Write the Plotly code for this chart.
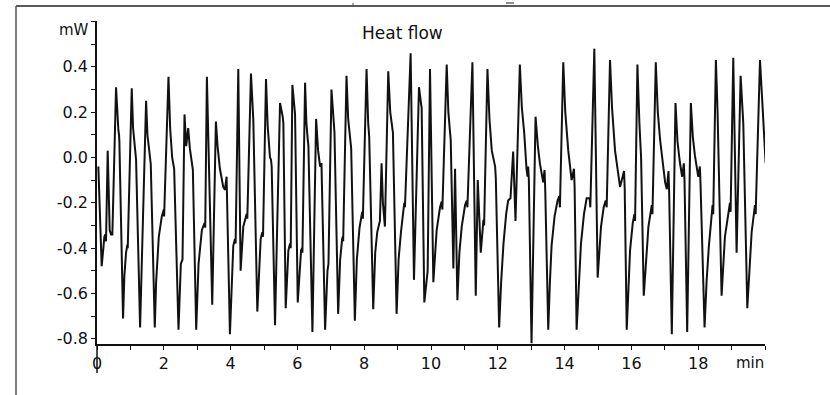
import plotly.graph_objects as go

# time (min) and heat flow (mW)
time_min = [
    0.04, 0.10, 0.14, 0.19, 0.22, 0.25, 0.27, 0.32, 0.36, 0.38, 0.42, 0.46,
    0.57, 0.60, 0.64, 0.66, 0.67, 0.78, 0.82, 0.87, 0.91, 0.92,
    1.04, 1.08, 1.13, 1.15, 1.17, 1.29, 1.33, 1.47, 1.51, 1.57, 1.59, 1.61,
    1.73, 1.77, 1.85, 1.94, 2.00, 2.01, 2.14, 2.19, 2.25, 2.29, 2.31,
    2.44, 2.51, 2.56, 2.62, 2.67, 2.73, 2.78, 2.84, 2.87, 2.97, 3.04, 3.14,
    3.22, 3.24, 3.29, 3.45, 3.56, 3.61, 3.68, 3.78, 3.83, 3.88, 3.89,
    3.98, 4.08, 4.13, 4.15, 4.23, 4.30, 4.38, 4.48, 4.50, 4.61, 4.68,
    4.80, 4.90, 4.95, 4.97, 5.06, 5.11, 5.18, 5.21, 5.23, 5.33, 5.38,
    5.48, 5.56, 5.58, 5.65, 5.73, 5.78, 5.80, 5.85, 5.90, 5.93, 6.01,
    6.08, 6.11, 6.14, 6.15, 6.23, 6.27, 6.31, 6.33, 6.45, 6.56, 6.62,
    6.68, 6.72, 6.73, 6.83, 6.90, 6.93, 7.02, 7.07, 7.10, 7.11, 7.22,
    7.28, 7.34, 7.36, 7.37, 7.47, 7.52, 7.58, 7.61, 7.72, 7.78, 7.86,
    7.94, 7.96, 8.07, 8.12, 8.15, 8.27, 8.33, 8.39, 8.47, 8.52, 8.56,
    8.62, 8.72, 8.78, 8.84, 8.86, 8.97, 9.03, 9.10, 9.20, 9.22, 9.39,
    9.49, 9.64, 9.70, 9.72, 9.80, 9.90, 9.97, 10.07, 10.17, 10.27, 10.32,
    10.34, 10.47, 10.52, 10.57, 10.59, 10.67, 10.72, 10.79, 10.85, 10.92,
    11.02, 11.07, 11.09, 11.24, 11.34, 11.40, 11.49, 11.57, 11.59, 11.69,
    11.75, 11.82, 11.90, 11.92, 11.94, 12.04, 12.10, 12.17, 12.25, 12.31,
    12.38, 12.46, 12.53, 12.66, 12.72, 12.79, 12.86, 12.89, 12.91, 12.93,
    13.01, 13.13, 13.20, 13.26, 13.36, 13.40, 13.42, 13.51, 13.56, 13.61,
    13.70, 13.79, 13.84, 13.86, 13.96, 14.02, 14.11, 14.21, 14.28, 14.30,
    14.36, 14.42, 14.49, 14.58, 14.66, 14.75, 14.77, 14.89, 14.99, 15.09,
    15.17, 15.23, 15.26, 15.36, 15.42, 15.51, 15.66, 15.78, 15.80, 15.86,
    15.91, 15.96, 16.04, 16.09, 16.11, 16.18, 16.24, 16.29, 16.37, 16.45,
    16.51, 16.61, 16.63, 16.73, 16.79, 16.86, 17.01, 17.06, 17.11, 17.13,
    17.21, 17.32, 17.38, 17.45, 17.52, 17.57, 17.59, 17.67, 17.78, 17.84,
    17.90, 18.00, 18.05, 18.07, 18.19, 18.25, 18.32, 18.43, 18.45, 18.53,
    18.58, 18.70, 18.80, 18.95, 18.97, 19.05, 19.15, 19.27, 19.35, 19.47,
    19.54, 19.60, 19.70, 19.72, 19.85, 19.91, 19.95, 20.02,
]
heat_flow_mw = [
    -0.04, -0.30, -0.48, -0.40, -0.35, -0.34, -0.37, 0.03, -0.20, -0.32, -0.34, -0.34,
    0.31, 0.20, 0.12, 0.10, 0.07, -0.71, -0.52, -0.42, -0.385, -0.40,
    0.305, 0.13, 0.03, 0.02, -0.01, -0.75, -0.50, 0.25, 0.10, 0.01, 0.0, -0.03,
    -0.75, -0.55, -0.35, -0.26, -0.23, -0.26, 0.356, 0.13, 0.00, -0.03, -0.05,
    -0.76, -0.47, -0.45, 0.19, 0.05, 0.13, 0.04, -0.03, -0.055, -0.76, -0.47, -0.32,
    -0.29, -0.31, 0.356, -0.65, 0.158, 0.05, -0.05, -0.13, -0.143, -0.085, -0.15,
    -0.78, -0.39, -0.36, -0.38, 0.39, -0.50, -0.305, -0.25, -0.27, 0.37, 0.165,
    -0.68, -0.36, -0.33, -0.35, 0.346, 0.14, 0.0, -0.01, -0.04, -0.74, -0.40,
    0.24, 0.18, 0.15, -0.665, -0.41, -0.38, -0.40, 0.32, 0.22, 0.19, -0.64,
    -0.45, -0.41, -0.40, -0.42, 0.33, 0.15, 0.08, 0.05, -0.77, 0.17, 0.03,
    -0.04, -0.025, -0.09, -0.76, -0.50, -0.47, 0.30, 0.16, 0.13, 0.11, -0.69,
    -0.45, -0.36, -0.35, -0.37, 0.36, 0.17, 0.08, 0.04, -0.72, -0.45, -0.31,
    -0.24, -0.27, 0.39, 0.15, 0.09, -0.67, -0.42, -0.33, -0.28, -0.026, -0.20,
    -0.305, 0.38, 0.20, 0.13, 0.11, -0.69, -0.45, -0.33, -0.20, -0.22, 0.46,
    -0.54, 0.31, 0.24, 0.22, -0.64, -0.50, 0.39, -0.55, -0.32, -0.22, -0.195,
    -0.23, 0.41, 0.20, 0.11, 0.08, -0.49, -0.05, -0.63, -0.42, -0.305,
    -0.21, -0.19, -0.22, 0.42, -0.61, -0.10, -0.42, -0.275, -0.30, 0.39,
    0.17, 0.03, -0.02, -0.04, -0.09, -0.75, -0.55, -0.38, -0.25, -0.19,
    -0.18, 0.026, -0.28, 0.41, 0.22, 0.11, -0.05, -0.085, -0.04, -0.10,
    -0.82, 0.18, 0.05, -0.026, -0.11, -0.055, -0.14, -0.76, -0.55, -0.39,
    -0.26, -0.19, -0.17, -0.22, 0.42, 0.20, 0.03, -0.10, -0.05, -0.13,
    -0.76, -0.55, -0.38, -0.25, -0.18, -0.18, -0.22, 0.48, -0.53, -0.305,
    -0.22, -0.19, -0.22, 0.43, 0.22, 0.03, -0.13, -0.06, -0.14, -0.76,
    -0.55, -0.41, -0.29, -0.25, -0.28, 0.41, 0.15, 0.0, -0.61, -0.45,
    -0.305, -0.21, -0.25, 0.42, 0.20, 0.077, -0.11, -0.14, -0.06, -0.15,
    -0.78, 0.24, 0.07, -0.02, -0.085, -0.026, -0.10, -0.77, 0.24, 0.09,
    0.01, -0.085, -0.04, -0.12, -0.75, -0.55, -0.39, -0.21, -0.25, 0.43,
    0.20, -0.61, -0.35, -0.20, -0.24, 0.44, -0.42, 0.36, 0.15, -0.665,
    -0.45, -0.33, -0.21, -0.25, 0.43, 0.25, 0.15, -0.026,
]

x_tick_vals = list(range(0, 21))
x_tick_text = [str(v) if v % 2 == 0 and v < 20 else "" for v in x_tick_vals]
y_tick_vals = [-0.8, -0.7, -0.6, -0.5, -0.4, -0.3, -0.2, -0.1, 0.0, 0.1, 0.2, 0.3, 0.4, 0.5, 0.6]
y_tick_text = ["-0.8", "", "-0.6", "", "-0.4", "", "-0.2", "", "0.0", "", "0.2", "", "0.4", "", ""]

FONT = "DejaVu Sans"
W, H = 830, 395
ML, MR, MT, MB = 97, 65, 21, 51
PW, PH = W - ML - MR, H - MT - MB

fig = go.Figure()
fig.add_trace(go.Scatter(
    x=time_min, y=heat_flow_mw, mode="lines",
    line=dict(color="#111111", width=2), hoverinfo="skip",
))

fig.update_layout(
    width=W, height=H,
    margin=dict(l=ML, r=MR, t=MT, b=MB, pad=0),
    paper_bgcolor="white", plot_bgcolor="white",
    showlegend=False,
    font=dict(family=FONT, size=16, color="#111111"),
    xaxis=dict(
        range=[0, 20], tickmode="array", tickvals=x_tick_vals, ticktext=x_tick_text,
        ticks="outside", ticklen=4, tickwidth=1.3, tickcolor="#111111",
        showline=True, linecolor="#111111", linewidth=2,
        showgrid=False, zeroline=False, tickfont=dict(size=16),
    ),
    yaxis=dict(
        range=[-0.823, 0.602], tickmode="array", tickvals=y_tick_vals, ticktext=y_tick_text,
        ticks="outside", ticklen=4, tickwidth=1.3, tickcolor="#111111",
        showline=True, linecolor="#111111", linewidth=1.5,
        showgrid=False, zeroline=False, tickfont=dict(size=16),
    ),
)

# y axis line continues below the x axis
fig.add_shape(type="line", xref="paper", yref="paper",
              x0=0, x1=0, y0=0, y1=-29 / PH,
              line=dict(color="#111111", width=1.5))
# outer frame lines (top and left)
fig.add_shape(type="line", xref="paper", yref="paper",
              x0=(16 - ML) / PW, x1=(W - ML) / PW,
              y0=(H - MB - 6) / PH, y1=(H - MB - 6) / PH,
              line=dict(color="#222222", width=1.5))
fig.add_shape(type="line", xref="paper", yref="paper",
              x0=(16 - ML) / PW, x1=(16 - ML) / PW,
              y0=(H - MB - 6) / PH, y1=-MB / PH,
              line=dict(color="#555555", width=1.5))
# small clipped text fragments at the top edge
fig.add_shape(type="line", xref="paper", yref="paper",
              x0=(506 - ML) / PW, x1=(514 - ML) / PW,
              y0=(H - MB - 3) / PH, y1=(H - MB - 3) / PH,
              line=dict(color="#222222", width=1))
fig.add_shape(type="line", xref="paper", yref="paper",
              x0=(352 - ML) / PW, x1=(354 - ML) / PW,
              y0=(H - MB - 4) / PH, y1=(H - MB - 4) / PH,
              line=dict(color="#444444", width=1))

fig.add_annotation(text="Heat flow", xref="paper", yref="paper",
                   x=(402 - ML) / PW, y=(H - MB - 33) / PH,
                   xanchor="center", yanchor="middle", showarrow=False,
                   font=dict(family=FONT, size=17, color="#111111"))
fig.add_annotation(text="mW", xref="paper", yref="paper",
                   x=(91 - ML) / PW, y=(H - MB - 30) / PH,
                   xanchor="right", yanchor="middle", showarrow=False,
                   font=dict(family=FONT, size=15, color="#111111"))
fig.add_annotation(text="min", xref="paper", yref="paper",
                   x=(766 - ML) / PW, y=(H - MB - 363) / PH,
                   xanchor="right", yanchor="middle", showarrow=False,
                   font=dict(family=FONT, size=15, color="#111111"))

fig.write_html("out.html")
